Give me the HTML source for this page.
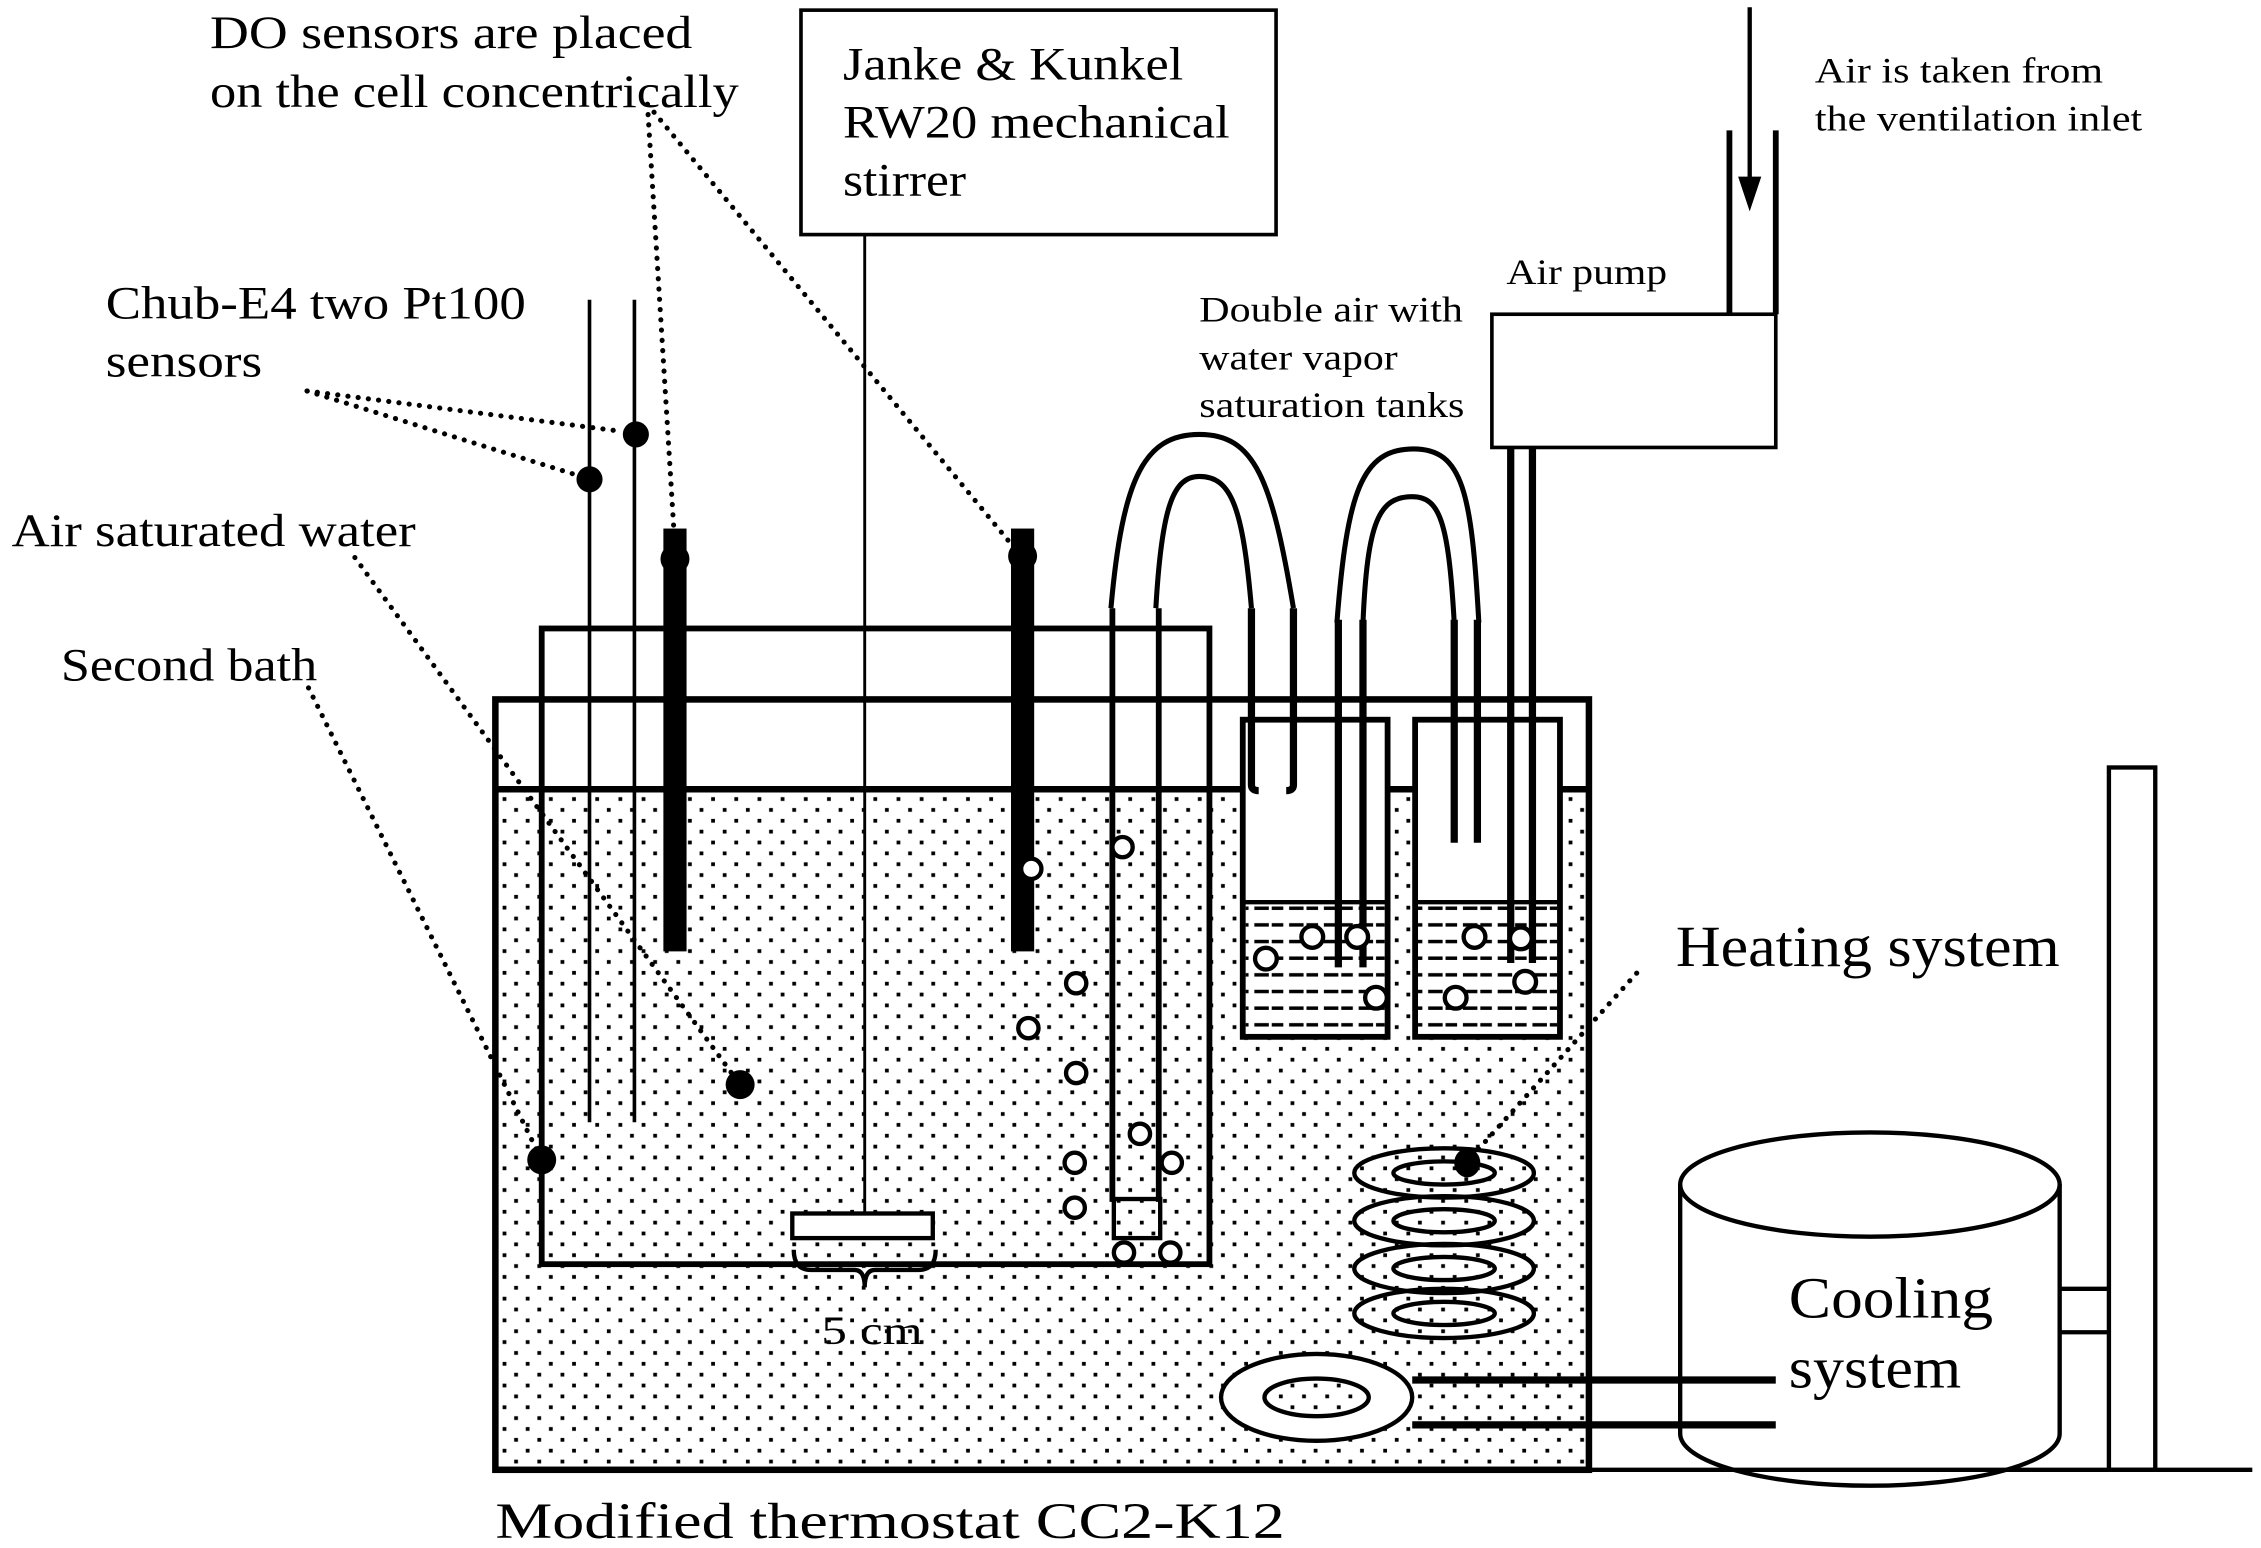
<!DOCTYPE html>
<html><head><meta charset="utf-8"><style>html,body{margin:0;padding:0;background:#fff}svg{display:block}text{font-family:"Liberation Serif","Times New Roman",serif}</style></head><body>
<svg width="2261" height="1548" viewBox="0 0 1561 1069" preserveAspectRatio="none" xmlns="http://www.w3.org/2000/svg">
<defs>
<pattern id="dots" width="16" height="15" patternUnits="userSpaceOnUse">
<rect x="3" y="3" width="2.6" height="2.6" fill="#000"/><rect x="11" y="10.5" width="2.6" height="2.6" fill="#000"/>
</pattern>
<pattern id="dash" width="24" height="11.5" patternUnits="userSpaceOnUse">
<rect x="2" y="5" width="10" height="2.4" fill="#000"/><rect x="14" y="5" width="8" height="2.4" fill="#000"/>
</pattern>
</defs>
<rect width="1561" height="1069" fill="#fff"/>
<rect x="342" y="545" width="755" height="470" fill="url(#dots)"/>
<rect x="858" y="497" width="100" height="219" fill="#fff" stroke="#000" stroke-width="4"/>
<rect x="977" y="497" width="100" height="219" fill="#fff" stroke="#000" stroke-width="4"/>
<rect x="860" y="625" width="96" height="89" fill="url(#dash)"/>
<rect x="979" y="625" width="96" height="89" fill="url(#dash)"/>
<line x1="858" y1="623" x2="960" y2="623" stroke="#000" stroke-width="3"/>
<line x1="977" y1="623" x2="1077" y2="623" stroke="#000" stroke-width="3"/>
<g fill="none" stroke="#000" stroke-width="4.5">
<rect x="342" y="483" width="755" height="532"/>
<line x1="342" y1="545" x2="858" y2="545"/>
<line x1="958" y1="545" x2="977" y2="545"/>
<line x1="1077" y1="545" x2="1097" y2="545"/>
<rect x="374" y="434" width="461" height="439" stroke-width="4"/>
</g>
<rect x="553" y="7" width="328" height="155" fill="#fff" stroke="#000" stroke-width="2.5"/>
<g font-size="32" lengthAdjust="spacingAndGlyphs"><text x="582" y="55" textLength="235" lengthAdjust="spacingAndGlyphs">Janke &amp; Kunkel</text><text x="582" y="95" textLength="267" lengthAdjust="spacingAndGlyphs">RW20 mechanical</text><text x="582" y="135" textLength="85" lengthAdjust="spacingAndGlyphs">stirrer</text></g>
<line x1="597" y1="162" x2="597" y2="838" stroke="#000" stroke-width="2"/>
<rect x="547" y="838" width="97" height="17" fill="#fff" stroke="#000" stroke-width="3"/>
<path d="M548 863 q0 14 12 14 h30 q7 0 7 12 q0 -12 7 -12 h30 q12 0 12 -14" fill="none" stroke="#000" stroke-width="3"/>
<text x="567" y="928" font-size="28" textLength="70" lengthAdjust="spacingAndGlyphs">5 cm</text>
<line x1="407" y1="207" x2="407" y2="775" stroke="#000" stroke-width="2.5"/>
<line x1="438" y1="207" x2="438" y2="775" stroke="#000" stroke-width="2.5"/>
<circle cx="407" cy="331" r="9"/><circle cx="439" cy="300" r="9"/>
<rect x="458" y="365" width="16" height="292"/><rect x="698" y="365" width="16" height="292"/>
<circle cx="466" cy="386" r="10"/><circle cx="706" cy="384" r="10"/>
<g fill="none" stroke="#000" stroke-width="3.5" stroke-dasharray="0.1 7" stroke-linecap="round">
<line x1="212" y1="270" x2="398" y2="328"/>
<line x1="212" y1="270" x2="430" y2="298"/>
<line x1="447" y1="72" x2="466" y2="378"/>
<line x1="447" y1="72" x2="700" y2="378"/>
<line x1="245" y1="385" x2="508" y2="745"/>
<line x1="213" y1="475" x2="372" y2="797"/>
<line x1="1130" y1="672" x2="1015" y2="800"/>
</g>
<circle cx="511" cy="749" r="10"/><circle cx="374" cy="801" r="10"/>
<g fill="none" stroke="#000" stroke-width="4">
<line x1="768" y1="420" x2="768" y2="830"/><line x1="800" y1="420" x2="800" y2="830"/>
<rect x="769" y="828" width="32" height="27" stroke-width="3"/>
</g>
<g fill="none" stroke="#000" stroke-width="3.5">
<path d="M767 420 C775 330 790 300 828 300 C866 300 878 330 893 420"/>
<path d="M798 420 C802 350 810 329 828 329 C850 329 858 350 864 420"/>
<path d="M923 430 C930 340 940 310 976 310 C1010 310 1016 340 1021 430"/>
<path d="M941 430 C944 360 952 343 975 343 C994 343 1000 360 1004 430"/>
</g>
<g stroke="#000" stroke-width="5" fill="none">
<path d="M864 420 V542 q0 4 5 4"/><path d="M893 420 V542 q0 4 -5 4"/>
<line x1="924" y1="428" x2="924" y2="668"/><line x1="941" y1="428" x2="941" y2="668"/>
<line x1="1004" y1="428" x2="1004" y2="582"/><line x1="1020" y1="428" x2="1020" y2="582"/>
<line x1="1043" y1="309" x2="1043" y2="665"/><line x1="1058" y1="309" x2="1058" y2="665"/>
</g>
<g fill="#fff" stroke="#000" stroke-width="3">
<circle cx="775" cy="585" r="7"/><circle cx="712" cy="600" r="7"/><circle cx="743" cy="679" r="7"/><circle cx="710" cy="710" r="7"/>
<circle cx="743" cy="741" r="7"/><circle cx="787" cy="783" r="7"/><circle cx="809" cy="803" r="7"/><circle cx="742" cy="803" r="7"/><circle cx="742" cy="834" r="7"/>
<circle cx="776" cy="865" r="7"/><circle cx="808" cy="865" r="7"/>
<circle cx="874" cy="662" r="7.5"/><circle cx="906" cy="647" r="7.5"/><circle cx="937" cy="647" r="7.5"/><circle cx="950" cy="689" r="7.5"/>
<circle cx="1018" cy="647" r="7.5"/><circle cx="1050" cy="648" r="7.5"/><circle cx="1053" cy="678" r="7.5"/><circle cx="1005" cy="689" r="7.5"/>
</g>
<g fill="none" stroke="#000" stroke-width="3">
<ellipse cx="997" cy="907" rx="62" ry="17"/><ellipse cx="997" cy="907" rx="35" ry="8"/>
<ellipse cx="997" cy="876" rx="62" ry="17"/><ellipse cx="997" cy="876" rx="35" ry="8"/>
<ellipse cx="997" cy="843" rx="62" ry="17"/><ellipse cx="997" cy="843" rx="35" ry="8"/>
<ellipse cx="997" cy="810" rx="62" ry="17"/><ellipse cx="997" cy="810" rx="35" ry="8"/>
</g>
<ellipse cx="1013" cy="803" rx="9" ry="10"/>
<ellipse cx="909" cy="965" rx="66" ry="30" fill="#fff" stroke="#000" stroke-width="3"/>
<ellipse cx="909" cy="965" rx="36" ry="13" fill="url(#dots)" stroke="#000" stroke-width="3"/>
<line x1="975" y1="953" x2="1226" y2="953" stroke="#000" stroke-width="5"/>
<line x1="975" y1="984" x2="1226" y2="984" stroke="#000" stroke-width="5"/>
<g fill="none" stroke="#000" stroke-width="3">
<path d="M1160 818 V990 A131 36 0 0 0 1422 990 V818"/>
<ellipse cx="1291" cy="818" rx="131" ry="36"/>
<line x1="1422" y1="890" x2="1456" y2="890"/><line x1="1422" y1="920" x2="1456" y2="920"/>
<rect x="1456" y="530" width="32" height="485"/>
</g>
<line x1="1097" y1="1015" x2="1555" y2="1015" stroke="#000" stroke-width="3"/>
<text x="1235" y="910" font-size="40" textLength="141" lengthAdjust="spacingAndGlyphs">Cooling</text>
<text x="1235" y="958" font-size="40" textLength="119" lengthAdjust="spacingAndGlyphs">system</text>
<text x="1157" y="667" font-size="40" textLength="265" lengthAdjust="spacingAndGlyphs">Heating system</text>
<rect x="1030" y="217" width="196" height="92" fill="#fff" stroke="#000" stroke-width="2.5"/>
<path d="M1194 217 V90 M1226 217 V90" stroke="#000" stroke-width="4" fill="none"/>
<line x1="1208" y1="5" x2="1208" y2="125" stroke="#000" stroke-width="3"/>
<polygon points="1200,122 1216,122 1208,146"/>
<text x="1040" y="196" font-size="25" textLength="111" lengthAdjust="spacingAndGlyphs">Air pump</text>
<text x="1253" y="57" font-size="25" textLength="199" lengthAdjust="spacingAndGlyphs">Air is taken from</text>
<text x="1253" y="90" font-size="25" textLength="226" lengthAdjust="spacingAndGlyphs">the ventilation inlet</text>
<text x="828" y="222" font-size="25" textLength="182" lengthAdjust="spacingAndGlyphs">Double air with</text>
<text x="828" y="255" font-size="25" textLength="137" lengthAdjust="spacingAndGlyphs">water vapor</text>
<text x="828" y="288" font-size="25" textLength="183" lengthAdjust="spacingAndGlyphs">saturation tanks</text>
<g font-size="32">
<text x="145" y="33" textLength="333" lengthAdjust="spacingAndGlyphs">DO sensors are  placed</text>
<text x="145" y="74" textLength="365" lengthAdjust="spacingAndGlyphs">on the cell concentrically</text>
<text x="73" y="220" textLength="290" lengthAdjust="spacingAndGlyphs">Chub-E4 two Pt100</text>
<text x="73" y="260" textLength="108" lengthAdjust="spacingAndGlyphs">sensors</text>
<text x="8" y="377" textLength="279" lengthAdjust="spacingAndGlyphs">Air saturated water</text>
<text x="42" y="470" textLength="177" lengthAdjust="spacingAndGlyphs">Second bath</text>
<text x="342" y="1062" font-size="35" textLength="545" lengthAdjust="spacingAndGlyphs">Modified thermostat CC2-K12</text>
</g>
</svg>
</body></html>
